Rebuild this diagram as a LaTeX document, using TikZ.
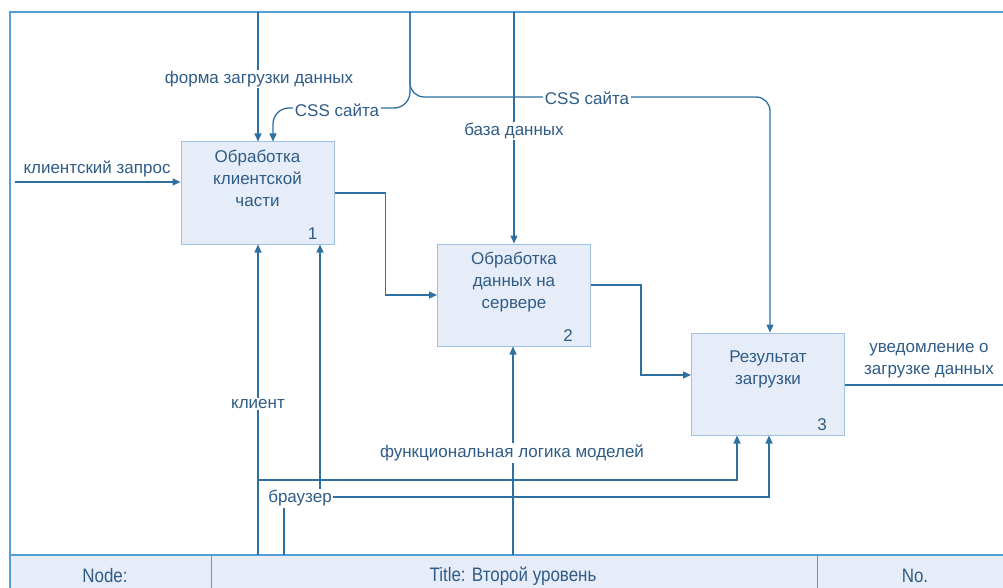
\documentclass[tikz,border=0pt]{standalone}
\usepackage{fontspec}
\setmainfont{Liberation Sans}
\newfontfamily\narrowfont[FakeStretch=0.87]{Liberation Sans}
\usetikzlibrary{arrows.meta,calc}
\definecolor{flow}{RGB}{46,112,160}
\definecolor{ink}{RGB}{47,92,135}
\definecolor{boxfill}{RGB}{230,237,248}
\definecolor{boxedge}{RGB}{158,194,230}
\definecolor{frame}{RGB}{84,158,216}
\begin{document}
\begin{tikzpicture}[x=1pt,y=-1pt,
  proc/.style={draw=boxedge, fill=boxfill, line width=1pt,
    minimum width=153pt, minimum height=102pt, inner sep=0pt},
  proctext/.style={anchor=north, align=center, text=ink, inner sep=0pt,
    font=\fontsize{17}{22}\selectfont},
  procnum/.style={anchor=south east, text=ink, inner sep=0pt,
    font=\fontsize{17}{18}\selectfont},
  flowline/.style={draw=flow, line width=1.3pt, -{Triangle[length=8pt,width=7pt]}},
  plainline/.style={draw=flow, line width=1.3pt},
  lbl/.style={text=ink, fill=white, inner sep=1.5pt,
    font=\fontsize{17}{22}\selectfont},
  cell/.style={text=ink, font=\narrowfont\fontsize{19.5}{20}\selectfont}]
\useasboundingbox (0,0) rectangle (1003,588);

% frame and title strip
\fill[boxfill] (10,555) rectangle (1003,588);
\draw[frame, line width=1.3pt] (10,588) -- (10,12) -- (1003,12);
\draw[frame, line width=1.3pt] (10,555) -- (1003,555);
\draw[frame, line width=1pt] (211,555) -- (211,588) (817,555) -- (817,588);
\node[cell] (nodecell) at (105,576) {Node:};
\node[cell] (titlecell) at (513,576) {Title: Второй уровень};
\node[cell] (nocell) at (915,576) {No.};

% activity boxes
\node[proc] (b1) at (257.5,193) {};
\node[proc] (b2) at (514,295) {};
\node[proc] (b3) at (768,384) {};
\node[proctext] (b1t) at ([yshift=-8pt]b1.north) {Обработка\\клиентской\\части};
\node[proctext] (b2t) at ([yshift=-8pt]b2.north) {Обработка\\данных на\\сервере};
\node[proctext] (b3t) at ([yshift=-18pt]b3.north) {Результат\\загрузки};
\node[procnum] (b1n) at ([xshift=-17pt,yshift=5pt]b1.south east) {1};
\node[procnum] (b2n) at ([xshift=-18pt,yshift=5pt]b2.south east) {2};
\node[procnum] (b3n) at ([xshift=-18pt,yshift=5pt]b3.south east) {3};

% boundary points
\coordinate (in1) at (15,182);
\coordinate (t1) at (258,12);
\coordinate (t2) at (410,12);
\coordinate (t3) at (514,12);
\coordinate (c1) at (273,108);
\coordinate (c2) at (770,97);
\coordinate (out) at (1003,385);
\coordinate (bt1) at (258,555);
\coordinate (bt2) at (284,555);
\coordinate (bt3) at (513,555);
\coordinate (j1) at (258,480);
\coordinate (j2) at (284,497);
\coordinate (j3) at (320,497);

% inputs and controls
\draw[flowline] (in1) -- (in1 -| b1.west);
\draw[flowline] (t1) -- (t1 |- b1.north);
\draw[flowline, rounded corners=16pt] (t2) |- (c1) -- (c1 |- b1.north);
\draw[flowline, rounded corners=14pt] (t2) |- (c2) -- (c2 |- b3.north);
\draw[flowline] (t3) -- (b2.north);

% box to box
\draw[flowline] (b1.east) -| ($(b1.east)!0.5!(b2.west)$) |- (b2.west);
\draw[flowline] ([yshift=10pt]b2.east) -| ($(b2.east)!0.5!(b3.west)$) |- ([yshift=9pt]b3.west);

% output
\draw[plainline] ([yshift=-1pt]b3.east) -- (out);

% mechanisms
\draw[flowline] (bt1) -- (bt1 |- b1.south);
\draw[flowline] (j1) -| ([xshift=-31pt]b3.south);
\draw[flowline] (bt2) -- (j2) -| ([xshift=1pt]b3.south);
\draw[flowline] (j3) -- (j3 |- b1.south);
\draw[flowline] (bt3) -- (bt3 |- b2.south);

% arrow labels
\node[lbl] (l1) at (97,169) {клиентский запрос};
\node[lbl] (l2) at (259,79) {форма загрузки данных};
\node[lbl] (l3) at (337,110) {CSS сайта};
\node[lbl] (l4) at (587,98) {CSS сайта};
\node[lbl] (l5) at (514,131) {база данных};
\node[lbl, align=center, fill=none] (l6) at (929,361) {уведомление о\\загрузке данных};
\node[lbl] (l7) at (258,404) {клиент};
\node[lbl] (l8) at (300,498) {браузер};
\node[lbl] (l9) at (512,453) {функциональная логика моделей};
\end{tikzpicture}
\end{document}
